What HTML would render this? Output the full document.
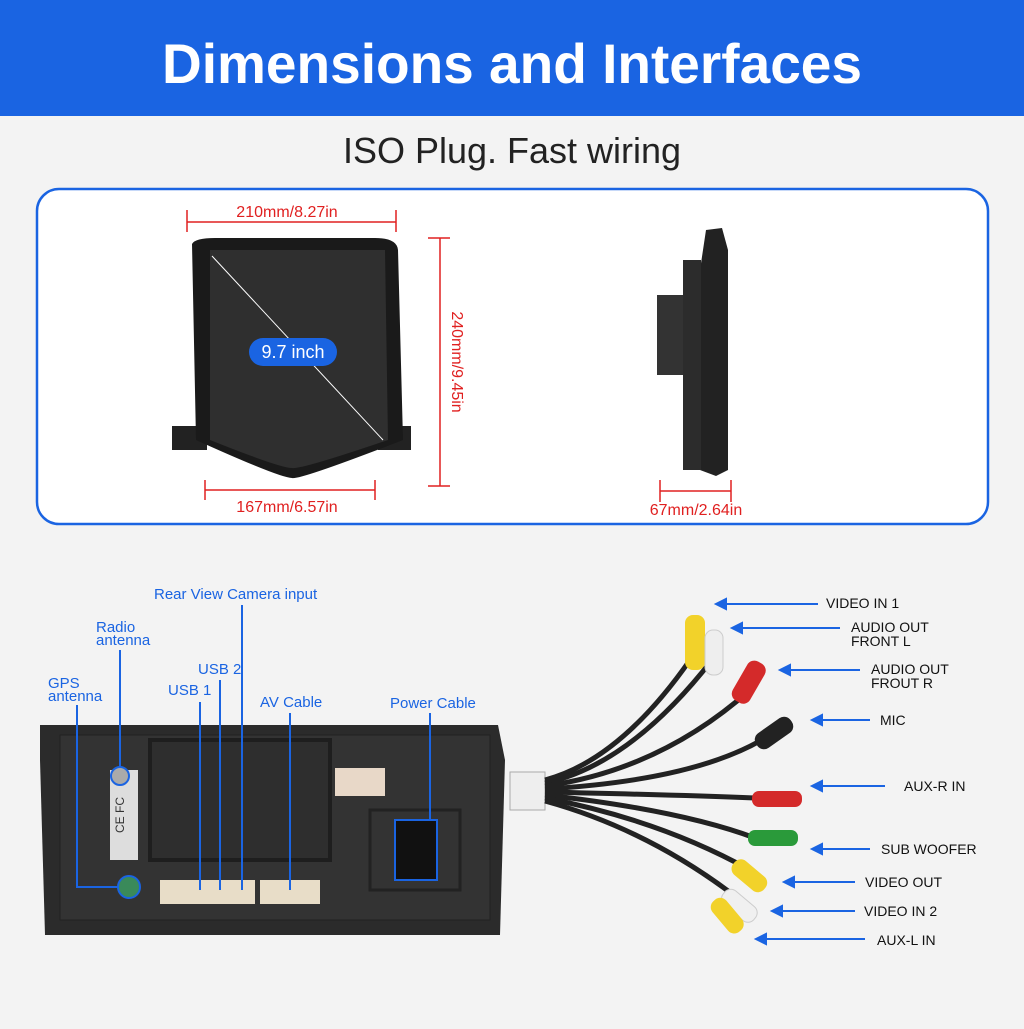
<!DOCTYPE html>
<html><head><meta charset="utf-8"><style>
body{margin:0;width:1024px;height:1024px;background:#f3f3f3;font-family:"Liberation Sans",sans-serif;overflow:hidden}
</style></head><body>
<svg width="1024" height="1024" viewBox="0 0 1024 1024" xmlns="http://www.w3.org/2000/svg" font-family="Liberation Sans, sans-serif">
<rect x="0" y="0" width="1024" height="1024" fill="#f3f3f3"/>
<rect x="0" y="0" width="1024" height="116" fill="#1a64e2"/>
<text x="512" y="83" text-anchor="middle" font-size="56" font-weight="bold" fill="#fff" textLength="700" lengthAdjust="spacingAndGlyphs">Dimensions and Interfaces</text>
<text x="512" y="163" text-anchor="middle" font-size="36" fill="#222">ISO Plug. Fast wiring</text>
<rect x="37" y="189" width="951" height="335" rx="22" fill="#fff" stroke="#1a64e2" stroke-width="2.5"/>
<!-- front device -->
<rect x="172" y="426" width="35" height="24" fill="#222"/>
<rect x="378" y="426" width="33" height="24" fill="#222"/>
<path d="M192 244 Q195 238 215 238 L375 238 Q397 238 398 250 L403 440 Q300 480 292 478 Q280 478 196 440 Z" fill="#1a1a1a"/>
<path d="M210 250 L385 250 L388 440 Q300 470 292 468 Q280 468 210 440 Z" fill="#2f2f2f"/>
<line x1="212" y1="256" x2="383" y2="440" stroke="#fff" stroke-width="1"/>
<rect x="249" y="338" width="88" height="28" rx="14" fill="#1a64e2"/>
<text x="293" y="358" text-anchor="middle" font-size="18" fill="#fff">9.7 inch</text>
<!-- dims -->
<g stroke="#e02020" stroke-width="1.5" fill="none">
<line x1="187" y1="210" x2="187" y2="232"/><line x1="396" y1="210" x2="396" y2="232"/><line x1="187" y1="222" x2="396" y2="222"/>
<line x1="205" y1="480" x2="205" y2="500"/><line x1="375" y1="480" x2="375" y2="500"/><line x1="205" y1="490" x2="375" y2="490"/>
<line x1="428" y1="238" x2="450" y2="238"/><line x1="428" y1="486" x2="450" y2="486"/><line x1="440" y1="238" x2="440" y2="486"/>
<line x1="660" y1="480" x2="660" y2="502"/><line x1="731" y1="480" x2="731" y2="502"/><line x1="660" y1="491" x2="731" y2="491"/>
</g>
<text x="287" y="217" text-anchor="middle" font-size="16" fill="#e02020">210mm/8.27in</text>
<text x="287" y="512" text-anchor="middle" font-size="16" fill="#e02020">167mm/6.57in</text>
<text x="696" y="515" text-anchor="middle" font-size="16" fill="#e02020">67mm/2.64in</text>
<text transform="translate(452,362) rotate(90)" text-anchor="middle" font-size="16" fill="#e02020">240mm/9.45in</text>
<!-- side view -->
<path d="M706 230 L722 228 L728 250 L728 470 L716 476 L700 470 L700 420 L686 410 L686 280 L700 270 Z" fill="#222"/>
<rect x="657" y="295" width="32" height="80" fill="#333"/>
<rect x="683" y="260" width="18" height="210" fill="#2c2c2c"/>
<!-- back panel -->
<path d="M40 725 L498 725 L505 760 L500 935 L45 935 L40 760 Z" fill="#2b2b2b"/>
<rect x="60" y="735" width="430" height="185" fill="#333" stroke="#222"/>
<rect x="150" y="740" width="180" height="120" fill="#2e2e2e" stroke="#1e1e1e" stroke-width="4"/>
<rect x="110" y="770" width="28" height="90" fill="#ddd"/>
<text transform="translate(124,815) rotate(-90)" text-anchor="middle" font-size="12" fill="#333">CE FC</text>
<circle cx="120" cy="776" r="9" fill="#aaa" stroke="#1a64e2" stroke-width="2"/>
<circle cx="129" cy="887" r="11" fill="#3a8a5a" stroke="#1a64e2" stroke-width="2"/>
<rect x="160" y="880" width="95" height="24" fill="#e8ddc8"/>
<rect x="260" y="880" width="60" height="24" fill="#e8ddc8"/>
<rect x="335" y="768" width="50" height="28" fill="#e8d8c8"/>
<rect x="395" y="820" width="42" height="60" fill="#111" stroke="#1a64e2" stroke-width="2"/>
<rect x="370" y="810" width="90" height="80" fill="none" stroke="#222" stroke-width="3"/>
<g stroke="#1a64e2" stroke-width="2" fill="none">
<polyline points="77,705 77,887 118,887"/>
<line x1="120" y1="650" x2="120" y2="767"/>
<line x1="200" y1="702" x2="200" y2="890"/>
<line x1="220" y1="680" x2="220" y2="890"/>
<line x1="242" y1="605" x2="242" y2="890"/>
<line x1="290" y1="713" x2="290" y2="890"/>
<line x1="430" y1="713" x2="430" y2="820"/>
</g>
<g font-size="15" fill="#1a64e2">
<text x="154" y="599">Rear View Camera input</text>
<text x="96" y="632">Radio</text><text x="96" y="645">antenna</text>
<text x="48" y="688">GPS</text><text x="48" y="701">antenna</text>
<text x="198" y="674">USB 2</text>
<text x="168" y="695">USB 1</text>
<text x="260" y="707">AV Cable</text>
<text x="390" y="708">Power Cable</text>
</g>
<!-- cables -->
<rect x="510" y="772" width="35" height="38" fill="#eee" stroke="#aaa"/>
<g stroke="#222" stroke-width="5" fill="none">
<path d="M545 780 Q620 760 690 660"/><path d="M545 783 Q630 765 712 660"/>
<path d="M545 786 Q660 770 750 690"/><path d="M545 789 Q700 780 770 735"/>
<path d="M545 792 Q680 795 755 798"/><path d="M545 795 Q680 810 755 838"/>
<path d="M545 798 Q660 820 750 870"/><path d="M545 801 Q650 830 740 900"/>
</g>
<g>
<rect x="685" y="615" width="20" height="55" rx="8" fill="#f2d22a"/>
<rect x="705" y="630" width="18" height="45" rx="8" fill="#eee" stroke="#ccc"/>
<rect x="740" y="660" width="20" height="45" rx="8" fill="#d42a2a" transform="rotate(30 750 680)"/>
<rect x="765" y="712" width="18" height="42" rx="8" fill="#222" transform="rotate(55 774 733)"/>
<rect x="752" y="791" width="50" height="16" rx="7" fill="#d42a2a"/>
<rect x="748" y="830" width="50" height="16" rx="7" fill="#2a9a3a"/>
<rect x="740" y="855" width="18" height="40" rx="8" fill="#f2d22a" transform="rotate(-50 750 875)"/>
<rect x="730" y="885" width="18" height="40" rx="8" fill="#f0f0f0" stroke="#ccc" transform="rotate(-50 740 905)"/>
<rect x="718" y="895" width="18" height="40" rx="8" fill="#f2d22a" transform="rotate(-40 728 915)"/>
</g>
<g stroke="#1a64e2" stroke-width="2" fill="#1a64e2">
<line x1="722" y1="604" x2="818" y2="604"/><polygon points="716,604 726,599 726,609"/>
<line x1="738" y1="628" x2="840" y2="628"/><polygon points="732,628 742,623 742,633"/>
<line x1="786" y1="670" x2="860" y2="670"/><polygon points="780,670 790,665 790,675"/>
<line x1="818" y1="720" x2="870" y2="720"/><polygon points="812,720 822,715 822,725"/>
<line x1="818" y1="786" x2="885" y2="786"/><polygon points="812,786 822,781 822,791"/>
<line x1="818" y1="849" x2="870" y2="849"/><polygon points="812,849 822,844 822,854"/>
<line x1="790" y1="882" x2="855" y2="882"/><polygon points="784,882 794,877 794,887"/>
<line x1="778" y1="911" x2="855" y2="911"/><polygon points="772,911 782,906 782,916"/>
<line x1="762" y1="939" x2="865" y2="939"/><polygon points="756,939 766,934 766,944"/>
</g>
<g font-size="14" fill="#111">
<text x="826" y="608">VIDEO IN 1</text>
<text x="851" y="632">AUDIO OUT</text><text x="851" y="646">FRONT L</text>
<text x="871" y="674">AUDIO OUT</text><text x="871" y="688">FROUT R</text>
<text x="880" y="725">MIC</text>
<text x="904" y="791">AUX-R IN</text>
<text x="881" y="854">SUB WOOFER</text>
<text x="865" y="887">VIDEO OUT</text>
<text x="864" y="916">VIDEO IN 2</text>
<text x="877" y="945">AUX-L IN</text>
</g>
</svg>
</body></html>
